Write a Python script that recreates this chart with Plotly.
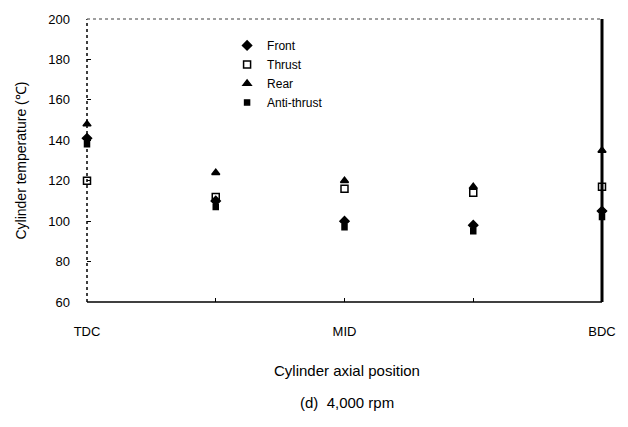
import plotly.graph_objects as go

positions = [0, 1, 2, 3, 4]
tick_labels = ["TDC", "", "MID", "", "BDC"]
front = [141, 110, 100, 98, 105]
thrust = [120, 112, 116, 114, 117]
rear = [148, 124, 120, 117, 135]
anti_thrust = [138, 107, 97, 95, 102]

series = [
    ("Front", front, "diamond", 7),
    ("Thrust", thrust, "square-open", 7),
    ("Rear", rear, "triangle-up", 7),
    ("Anti-thrust", anti_thrust, "square", 5),
]

fig = go.Figure()
for name, vals, sym, sz in series:
    fig.add_trace(go.Scatter(
        x=positions, y=vals, mode="markers", name=name, cliponaxis=False,
        marker=dict(symbol=sym, size=sz, color="black", line=dict(color="black", width=1.5)),
    ))

font = "Liberation Sans, Arial, sans-serif"
fig.update_layout(
    width=628, height=427,
    margin=dict(l=87, r=26, t=12, b=125),
    paper_bgcolor="white", plot_bgcolor="white",
    font=dict(family=font, color="black", size=12),
    showlegend=True,
    legend=dict(x=0.272, y=0.958, xanchor="left", yanchor="top",
                bgcolor="rgba(0,0,0,0)", font=dict(size=12), tracegroupgap=0,
                itemwidth=30),
    xaxis=dict(range=[0, 4], tickvals=positions, ticktext=tick_labels,
               ticks="inside", ticklen=4, tickcolor="black", showgrid=False,
               zeroline=False, showline=False, tickfont=dict(size=13),
               ticklabelstandoff=20),
    yaxis=dict(range=[60, 200], dtick=20, tick0=60, ticks="inside", ticklen=4,
               tickcolor="black", showgrid=False, zeroline=False, showline=False,
               tickfont=dict(size=13), ticklabelstandoff=16),
)

# frame
fig.add_shape(type="line", xref="paper", yref="paper", x0=0, x1=1, y0=0, y1=0,
              line=dict(color="black", width=1.5))
fig.add_shape(type="line", xref="paper", yref="paper", x0=0, x1=0, y0=0, y1=1,
              line=dict(color="black", width=1.5, dash="dot"))
fig.add_shape(type="line", xref="paper", yref="paper", x0=0, x1=1, y0=1, y1=1,
              line=dict(color="gray", width=1.5, dash="dot"))
fig.add_shape(type="line", xref="paper", yref="paper", x0=1, x1=1, y0=0, y1=1,
              line=dict(color="black", width=3))

fig.add_annotation(text="Cylinder temperature (\u2103)", xref="paper", yref="paper",
                   x=-0.13, y=0.5, textangle=-90, showarrow=False,
                   xanchor="center", yanchor="middle", font=dict(size=14))
fig.add_annotation(text="Cylinder axial position", xref="paper", yref="paper",
                   x=0.505, y=-0.242, showarrow=False, xanchor="center", yanchor="middle",
                   font=dict(size=15))
fig.add_annotation(text="(d)  4,000 rpm", xref="paper", yref="paper",
                   x=0.505, y=-0.355, showarrow=False, xanchor="center", yanchor="middle",
                   font=dict(size=15))

fig.write_html("out.html")
